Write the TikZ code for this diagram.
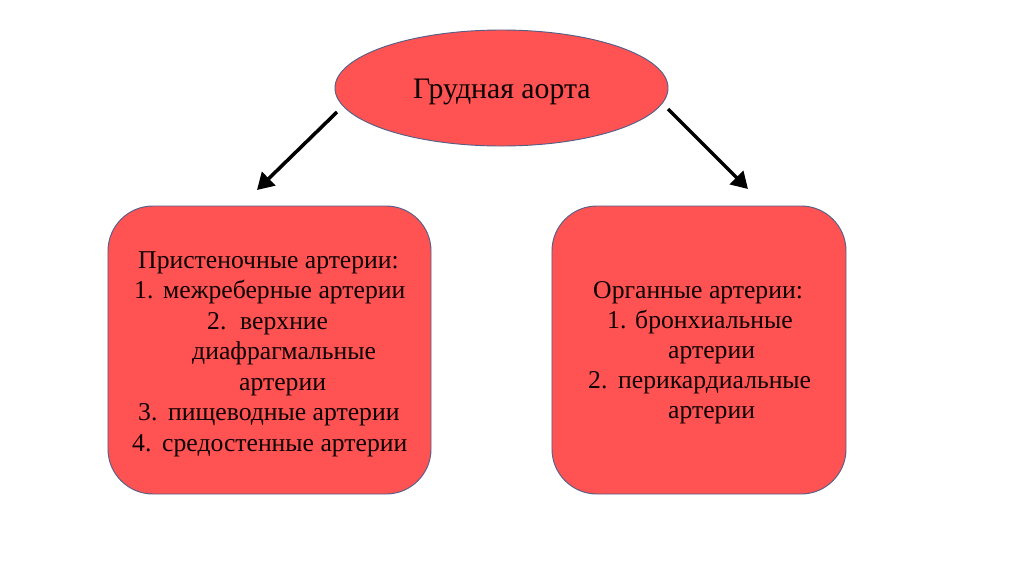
\documentclass[tikz,border=0pt]{standalone}
\usepackage{fontspec}
\setmainfont{Liberation Serif}
\usetikzlibrary{shapes.geometric,arrows.meta}
\definecolor{boxred}{RGB}{255,82,82}
\definecolor{edgeblue}{RGB}{85,95,135}
\tikzset{
  shapebox/.style={draw=edgeblue,line width=0.8pt,fill=boxred},
  txt/.style={anchor=base west,inner sep=0pt,font=\fontsize{21.9}{26}\selectfont,text=black!95!red},
  titletxt/.style={txt,font=\fontsize{25.4}{30}\selectfont},
  bigarrow/.style={line width=3pt,-{Triangle[length=14pt,width=16pt]}}
}
\begin{document}
\begin{tikzpicture}[x=0.03cm,y=-0.03cm]
\useasboundingbox (0,0) rectangle (1024,574);
\fill[white] (0,0) rectangle (1024,574);
% shapes
\node[shapebox,ellipse,minimum width=9.99cm,minimum height=3.48cm,inner sep=0pt] (aorta) at (501.5,88) {};
\node[shapebox,rectangle,rounded corners=1.35cm,minimum width=9.69cm,minimum height=8.64cm,inner sep=0pt] (left) at (269.5,350) {};
\node[shapebox,rectangle,rounded corners=1.35cm,minimum width=8.82cm,minimum height=8.64cm,inner sep=0pt] (right) at (699,350) {};
% title
\node[titletxt] (t0) at (413,98) {Грудная аорта};
% left box text
\node[txt] (l0) at (138,268) {Пристеночные артерии:};
\node[txt] (l1n) at (134,298.5) {1.};
\node[txt] (l1) at (163,298.5) {межреберные артерии};
\node[txt] (l2n) at (207,329) {2.};
\node[txt] (l2) at (240,329) {верхние};
\node[txt] (l2b) at (192,359.5) {диафрагмальные};
\node[txt] (l2c) at (239,390) {артерии};
\node[txt] (l3n) at (138,420.5) {3.};
\node[txt] (l3) at (168,420.5) {пищеводные артерии};
\node[txt] (l4n) at (132,451) {4.};
\node[txt] (l4) at (162,451) {средостенные артерии};
% right box text
\node[txt] (r0) at (593,298) {Органные артерии:};
\node[txt] (r1n) at (607,328) {1.};
\node[txt] (r1) at (635,328) {бронхиальные};
\node[txt] (r1b) at (668,358) {артерии};
\node[txt] (r2n) at (588,388.5) {2.};
\node[txt] (r2) at (618,388.5) {перикардиальные};
\node[txt] (r2b) at (668,418.5) {артерии};
% arrows
\coordinate (la) at (337,112);
\coordinate (lb) at (257,190);
\coordinate (ra) at (668,109);
\coordinate (rb) at (748,189);
\draw[bigarrow] (la) -- (lb);
\draw[bigarrow] (ra) -- (rb);
\end{tikzpicture}
\end{document}
